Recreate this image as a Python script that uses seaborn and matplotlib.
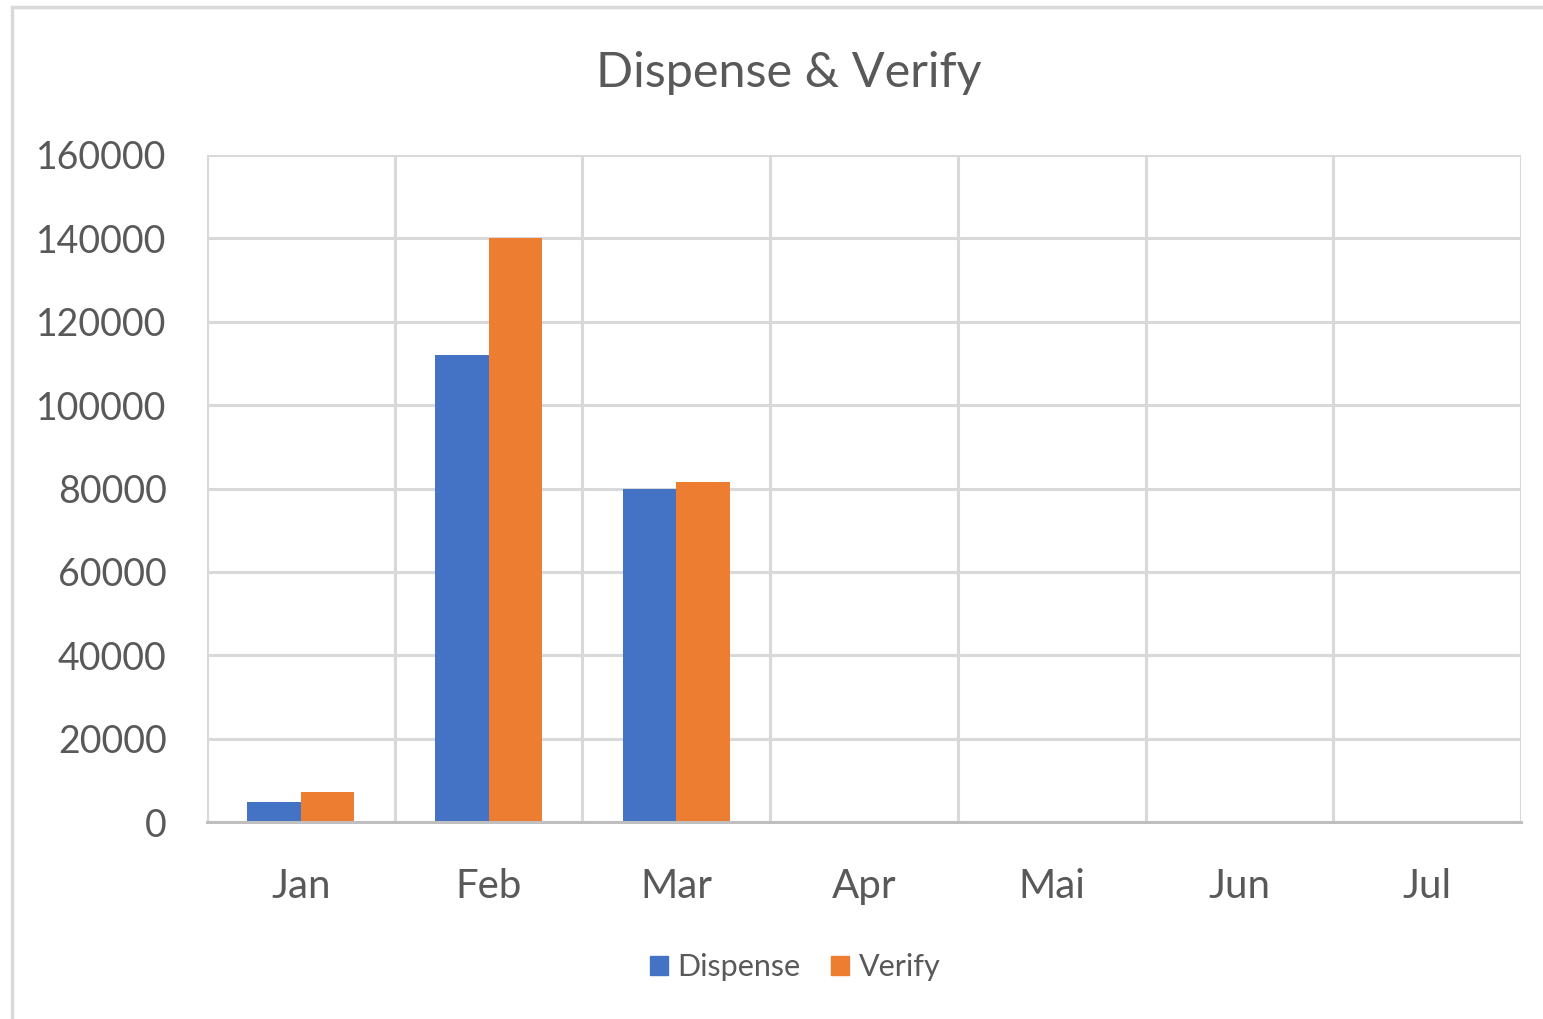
import pandas as pd
import matplotlib.pyplot as plt
import matplotlib.patches as mpatches
from matplotlib.ticker import MultipleLocator
import seaborn as sns

# chart data
months = ['Jan', 'Feb', 'Mar', 'Apr', 'Mai', 'Jun', 'Jul']
dispense = [4900, 112000, 80000, None, None, None, None]
verify = [7100, 140000, 81600, None, None, None, None]
series = ['Dispense', 'Verify']
colors = ['#4472C4', '#ED7D31']

data = pd.DataFrame({'Month': months * 2,
                     'Series': ['Dispense'] * len(months) + ['Verify'] * len(months),
                     'Value': dispense + verify})

sns.set_style('white')
plt.rcParams['font.family'] = ['Lato', 'DejaVu Sans']
text_col = '#595959'
grid_col = '#d9d9d9'

fig = plt.figure(figsize=(15.43, 10.19), dpi=100)
ax = fig.add_axes([0.1342, 0.1933, 0.8515, 0.6546])

sns.barplot(data=data, x='Month', y='Value', hue='Series', order=months,
            hue_order=series, palette=colors, width=0.57, saturation=1,
            linewidth=0, ax=ax, legend=False)

ax.set_xlim(-0.5, len(months) - 0.5)
ax.set_ylim(0, 160000)
ax.yaxis.set_major_locator(MultipleLocator(20000))
ax.xaxis.set_minor_locator(MultipleLocator(1, offset=0.5))
ax.grid(axis='y', which='major', color=grid_col, lw=2.2)
ax.grid(axis='x', which='minor', color=grid_col, lw=2.2)
ax.set_axisbelow(True)
ax.tick_params(which='both', length=0)
ax.tick_params(axis='y', pad=29, labelsize=27, labelcolor=text_col)
ax.tick_params(axis='x', pad=33, labelsize=29, labelcolor=text_col)
ax.set_xlabel('')
ax.set_ylabel('')
for s in ['top', 'right', 'left']:
    ax.spines[s].set_visible(False)
ax.spines['bottom'].set_color('#bfbfbf')
ax.spines['bottom'].set_linewidth(2.2)

fig.text(789 / 1543, 1 - 73 / 1019, 'Dispense & Verify', fontsize=35,
         color=text_col, ha='center', va='center')

handles = [mpatches.Patch(color=c, label=s) for c, s in zip(colors, series)]
fig.legend(handles=handles, loc='center', bbox_to_anchor=(795 / 1543, 0.051),
           ncol=2, frameon=False, fontsize=22, labelcolor=text_col,
           handlelength=0.6, handleheight=0.6, handletextpad=0.3,
           columnspacing=1.0)

# outer chart border
fig.patches.append(mpatches.Rectangle((12 / 1543, -0.1), 1.2, 1 - 7 / 1019 + 0.1,
                                      transform=fig.transFigure, fill=False,
                                      edgecolor='#d9d9d9', lw=2.5))

fig.savefig('out.png', dpi=100)
